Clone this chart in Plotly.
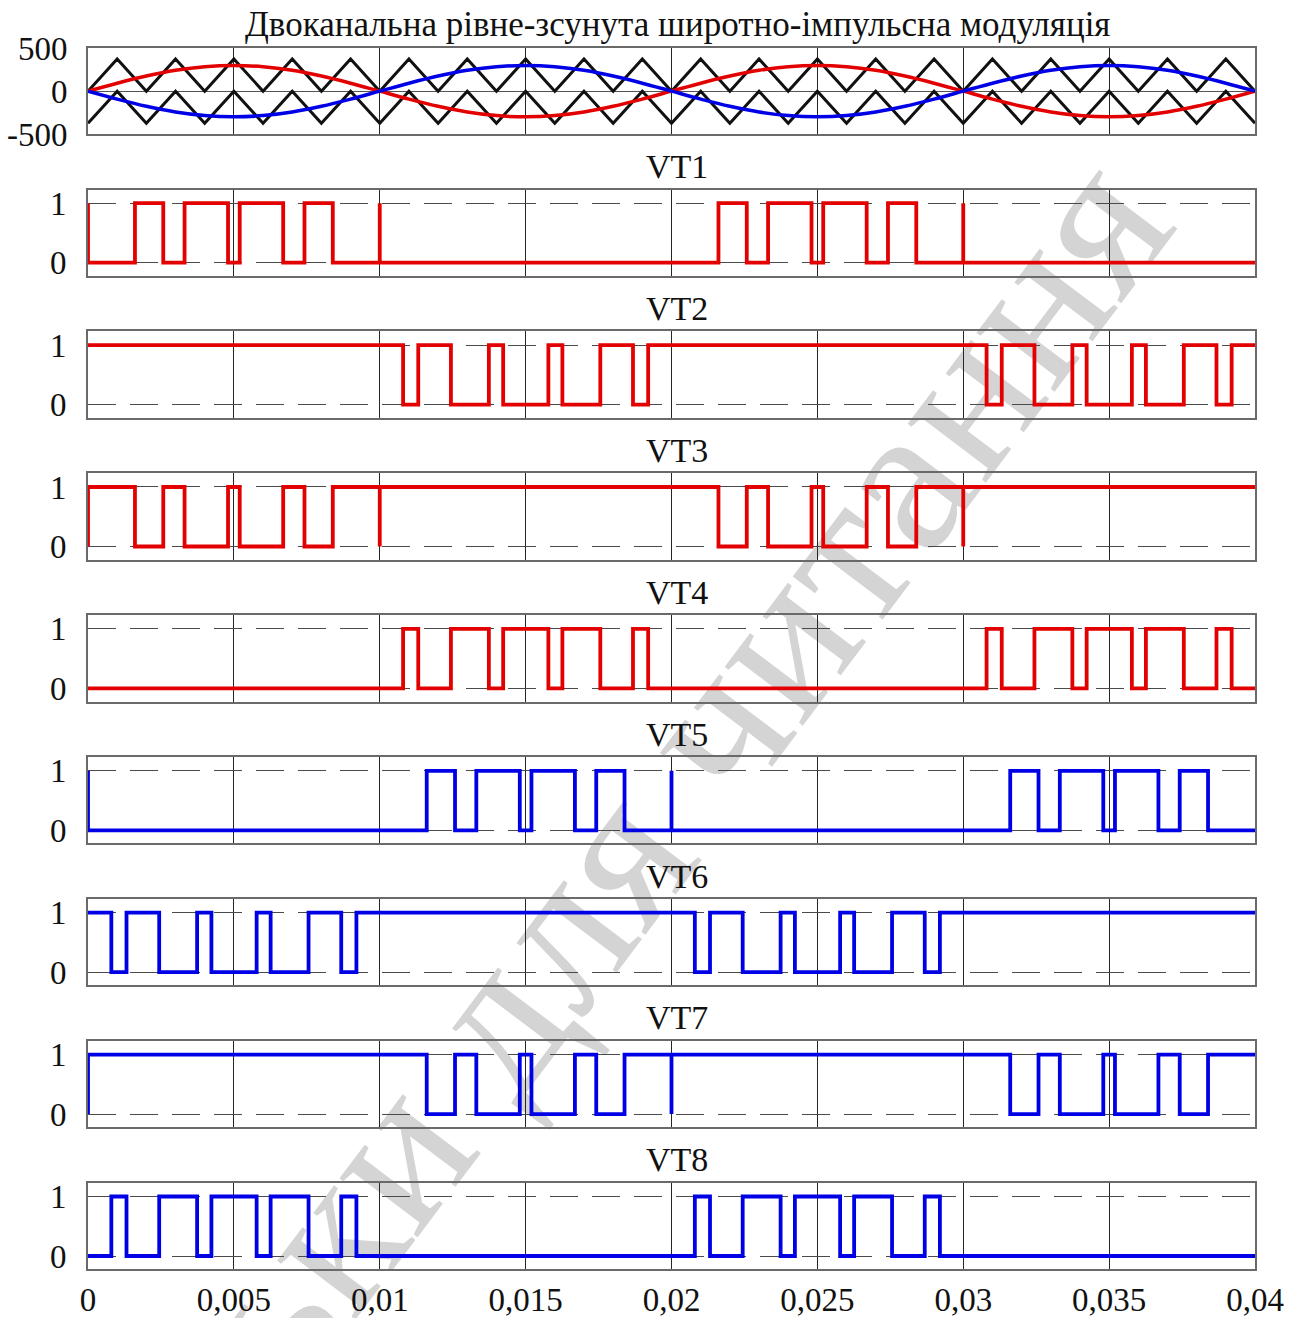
import plotly.graph_objects as go

# ---------------------------------------------------------------- data
# time base of the carrier vertices and reference samples, s (0 ... 0.04 step 1 ms)
t_grid = [k * 0.001 for k in range(41)]

# level-shifted triangular carriers (vertex values)
carrier_upper = [0, 375, 0, 375, 0, 375, 0, 375, 0, 375, 0,
                 375, 0, 375, 0, 375, 0, 375, 0, 375, 0,
                 375, 0, 375, 0, 375, 0, 375, 0, 375, 0,
                 375, 0, 375, 0, 375, 0, 375, 0, 375, 0]
carrier_lower = [-375, 0, -375, 0, -375, 0, -375, 0, -375, 0, -375,
                 0, -375, 0, -375, 0, -375, 0, -375, 0, -375,
                 0, -375, 0, -375, 0, -375, 0, -375, 0, -375,
                 0, -375, 0, -375, 0, -375, 0, -375, 0, -375]

# reference waves of the two channels
ref_red = [0, 92.7, 176.3, 242.7, 285.3, 300, 285.3, 242.7, 176.3, 92.7,
           0, -92.7, -176.3, -242.7, -285.3, -300, -285.3, -242.7, -176.3, -92.7,
           0, 92.7, 176.3, 242.7, 285.3, 300, 285.3, 242.7, 176.3, 92.7,
           0, -92.7, -176.3, -242.7, -285.3, -300, -285.3, -242.7, -176.3, -92.7, 0]
ref_blue = [0, -92.7, -176.3, -242.7, -285.3, -300, -285.3, -242.7, -176.3, -92.7,
            0, 92.7, 176.3, 242.7, 285.3, 300, 285.3, 242.7, 176.3, 92.7,
            0, -92.7, -176.3, -242.7, -285.3, -300, -285.3, -242.7, -176.3, -92.7,
            0, 92.7, 176.3, 242.7, 285.3, 300, 285.3, 242.7, 176.3, 92.7, 0]

# gate signals: initial state and switching instants, s
VT1_start = 1
VT1_edges = [0.0, 0.00161, 0.00258, 0.00331, 0.00480, 0.00520, 0.00669, 0.00742, 0.00839,
             0.010, 0.010,
             0.02161, 0.02258, 0.02331, 0.02480, 0.02520, 0.02669, 0.02742, 0.02839,
             0.030, 0.030]
VT2_start = 1
VT2_edges = [0.01080, 0.01132, 0.01244, 0.01374, 0.01423, 0.01578, 0.01626, 0.01756, 0.01868, 0.01920,
             0.03080, 0.03132, 0.03244, 0.03374, 0.03423, 0.03578, 0.03626, 0.03756, 0.03868, 0.03920]
VT3_start = 0
VT3_edges = [0.0, 0.00161, 0.00258, 0.00331, 0.00480, 0.00520, 0.00669, 0.00742, 0.00839,
             0.010, 0.010,
             0.02161, 0.02258, 0.02331, 0.02480, 0.02520, 0.02669, 0.02742, 0.02839,
             0.030, 0.030]
VT4_start = 0
VT4_edges = [0.01080, 0.01132, 0.01244, 0.01374, 0.01423, 0.01578, 0.01626, 0.01756, 0.01868, 0.01920,
             0.03080, 0.03132, 0.03244, 0.03374, 0.03423, 0.03578, 0.03626, 0.03756, 0.03868, 0.03920]
VT5_start = 1
VT5_edges = [0.0, 0.01161, 0.01258, 0.01331, 0.01480, 0.01520, 0.01669, 0.01742, 0.01839,
             0.020, 0.020,
             0.03161, 0.03258, 0.03331, 0.03480, 0.03520, 0.03669, 0.03742, 0.03839]
VT6_start = 1
VT6_edges = [0.00080, 0.00132, 0.00244, 0.00374, 0.00423, 0.00578, 0.00626, 0.00756, 0.00868, 0.00920,
             0.02080, 0.02132, 0.02244, 0.02374, 0.02423, 0.02578, 0.02626, 0.02756, 0.02868, 0.02920]
VT7_start = 0
VT7_edges = [0.0, 0.01161, 0.01258, 0.01331, 0.01480, 0.01520, 0.01669, 0.01742, 0.01839,
             0.020, 0.020,
             0.03161, 0.03258, 0.03331, 0.03480, 0.03520, 0.03669, 0.03742, 0.03839]
VT8_start = 0
VT8_edges = [0.00080, 0.00132, 0.00244, 0.00374, 0.00423, 0.00578, 0.00626, 0.00756, 0.00868, 0.00920,
             0.02080, 0.02132, 0.02244, 0.02374, 0.02423, 0.02578, 0.02626, 0.02756, 0.02868, 0.02920]

x_ticks = [0, 0.005, 0.01, 0.015, 0.02, 0.025, 0.03, 0.035, 0.04]
x_ticktext = ["0", "0,005", "0,01", "0,015", "0,02", "0,025", "0,03", "0,035", "0,04"]

title_main = "Двоканальна рівне-зсунута широтно-імпульсна модуляція"
signals = [
    ("VT1", VT1_start, VT1_edges, "#e30000"),
    ("VT2", VT2_start, VT2_edges, "#e30000"),
    ("VT3", VT3_start, VT3_edges, "#e30000"),
    ("VT4", VT4_start, VT4_edges, "#e30000"),
    ("VT5", VT5_start, VT5_edges, "#0000e6"),
    ("VT6", VT6_start, VT6_edges, "#0000e6"),
    ("VT7", VT7_start, VT7_edges, "#0000e6"),
    ("VT8", VT8_start, VT8_edges, "#0000e6"),
]

# ---------------------------------------------------------------- layout helpers
W, H = 1296, 1318
T_END = 0.04
FONT = "Liberation Serif"


def step_path(start, edges, t_end):
    xs, ys = [0.0], [start]
    level = start
    for t in edges:
        xs += [t, t]
        ys += [level, 1 - level]
        level = 1 - level
    xs.append(t_end)
    ys.append(level)
    return xs, ys


def yfrac(px):
    return 1 - px / H


# panel boxes in pixels (top, bottom)
boxes = [(48.3, 134.0)] + [(189.5 + 141.9 * k, 189.5 + 141.9 * k + 86.3) for k in range(8)]

fig = go.Figure()

# top panel: carriers and references
fig.add_trace(go.Scatter(x=t_grid, y=carrier_upper, mode="lines",
                         line=dict(color="#111111", width=3), xaxis="x", yaxis="y"))
fig.add_trace(go.Scatter(x=t_grid, y=carrier_lower, mode="lines",
                         line=dict(color="#111111", width=3), xaxis="x", yaxis="y"))
fig.add_trace(go.Scatter(x=t_grid, y=ref_red, mode="lines", line_shape="spline",
                         line=dict(color="#e30000", width=3.5), xaxis="x", yaxis="y"))
fig.add_trace(go.Scatter(x=t_grid, y=ref_blue, mode="lines", line_shape="spline",
                         line=dict(color="#0000e6", width=3.5), xaxis="x", yaxis="y"))

for i, (name, start, edges, color) in enumerate(signals, start=2):
    xs, ys = step_path(start, edges, T_END)
    fig.add_trace(go.Scatter(x=xs, y=ys, mode="lines",
                             line=dict(color=color, width=3.8),
                             xaxis=f"x{i}", yaxis=f"y{i}"))

layout = dict(
    width=W, height=H,
    margin=dict(l=88, r=41, t=0, b=0, autoexpand=False),
    paper_bgcolor="white",
    plot_bgcolor="rgba(0,0,0,0)",
    showlegend=False,
    font=dict(family=FONT, color="#111111"),
)

for i, (top, bot) in enumerate(boxes, start=1):
    sfx = "" if i == 1 else str(i)
    last = i == len(boxes)
    layout[f"xaxis{sfx}"] = dict(
        domain=[0, 1], range=[0, T_END], anchor=f"y{sfx}", automargin=False,
        tickvals=x_ticks, ticktext=x_ticktext, showticklabels=last,
        tickfont=dict(size=33, family=FONT, color="#111111"),
        ticks="", ticklabelstandoff=0,
        showgrid=True, gridcolor="#262626", gridwidth=1,
        showline=True, mirror=True, linecolor="#6a6a6a", linewidth=1.6,
        zeroline=False, layer="below traces",
    )
    if i == 1:
        layout["yaxis"] = dict(
            domain=[yfrac(bot), yfrac(top)], range=[-500, 500], anchor="x", automargin=False,
            tickvals=[-500, 0, 500], ticktext=["-500", "0", "500"],
            tickfont=dict(size=33, family=FONT, color="#111111"),
            ticks="", ticklabelstandoff=12,
            showgrid=True, gridcolor="#555555", gridwidth=1.3,
            showline=True, mirror=True, linecolor="#6a6a6a", linewidth=1.6,
            zeroline=False, layer="below traces",
        )
    else:
        layout[f"yaxis{sfx}"] = dict(
            domain=[yfrac(bot), yfrac(top)], range=[-0.22, 1.23], anchor=f"x{sfx}", automargin=False,
            tickvals=[0, 1], ticktext=["0", "1"],
            tickfont=dict(size=33, family=FONT, color="#111111"),
            ticks="", ticklabelstandoff=13,
            showgrid=True, gridcolor="#4a4a4a", gridwidth=1.3, griddash="28px,14px",
            showline=True, mirror=True, linecolor="#6a6a6a", linewidth=1.6,
            zeroline=False, layer="below traces",
        )

fig.update_layout(**layout)

# titles
fig.add_annotation(text=title_main, xref="paper", yref="paper", x=0.505, y=yfrac(25),
                   xanchor="center", yanchor="middle", showarrow=False,
                   font=dict(size=35, family=FONT, color="#111111"))
for k, (name, _, _, _) in enumerate(signals):
    top = boxes[k + 1][0]
    fig.add_annotation(text=name, xref="paper", yref="paper", x=0.505, y=yfrac(top - 23),
                       xanchor="center", yanchor="middle", showarrow=False,
                       font=dict(size=34, family=FONT, color="#111111"))

# diagonal watermark behind the plots
fig.add_shape(type="rect", xref="paper", yref="paper",
              x0=0.41, x1=0.42, y0=0.332, y1=0.342,
              line=dict(width=0), fillcolor="rgba(0,0,0,0)", layer="below",
              label=dict(text="Тільки для читання", textangle=-53,
                         textposition="middle center",
                         font=dict(size=213, family=FONT, color="#d4d4d4")))

fig.write_html("out.html")
